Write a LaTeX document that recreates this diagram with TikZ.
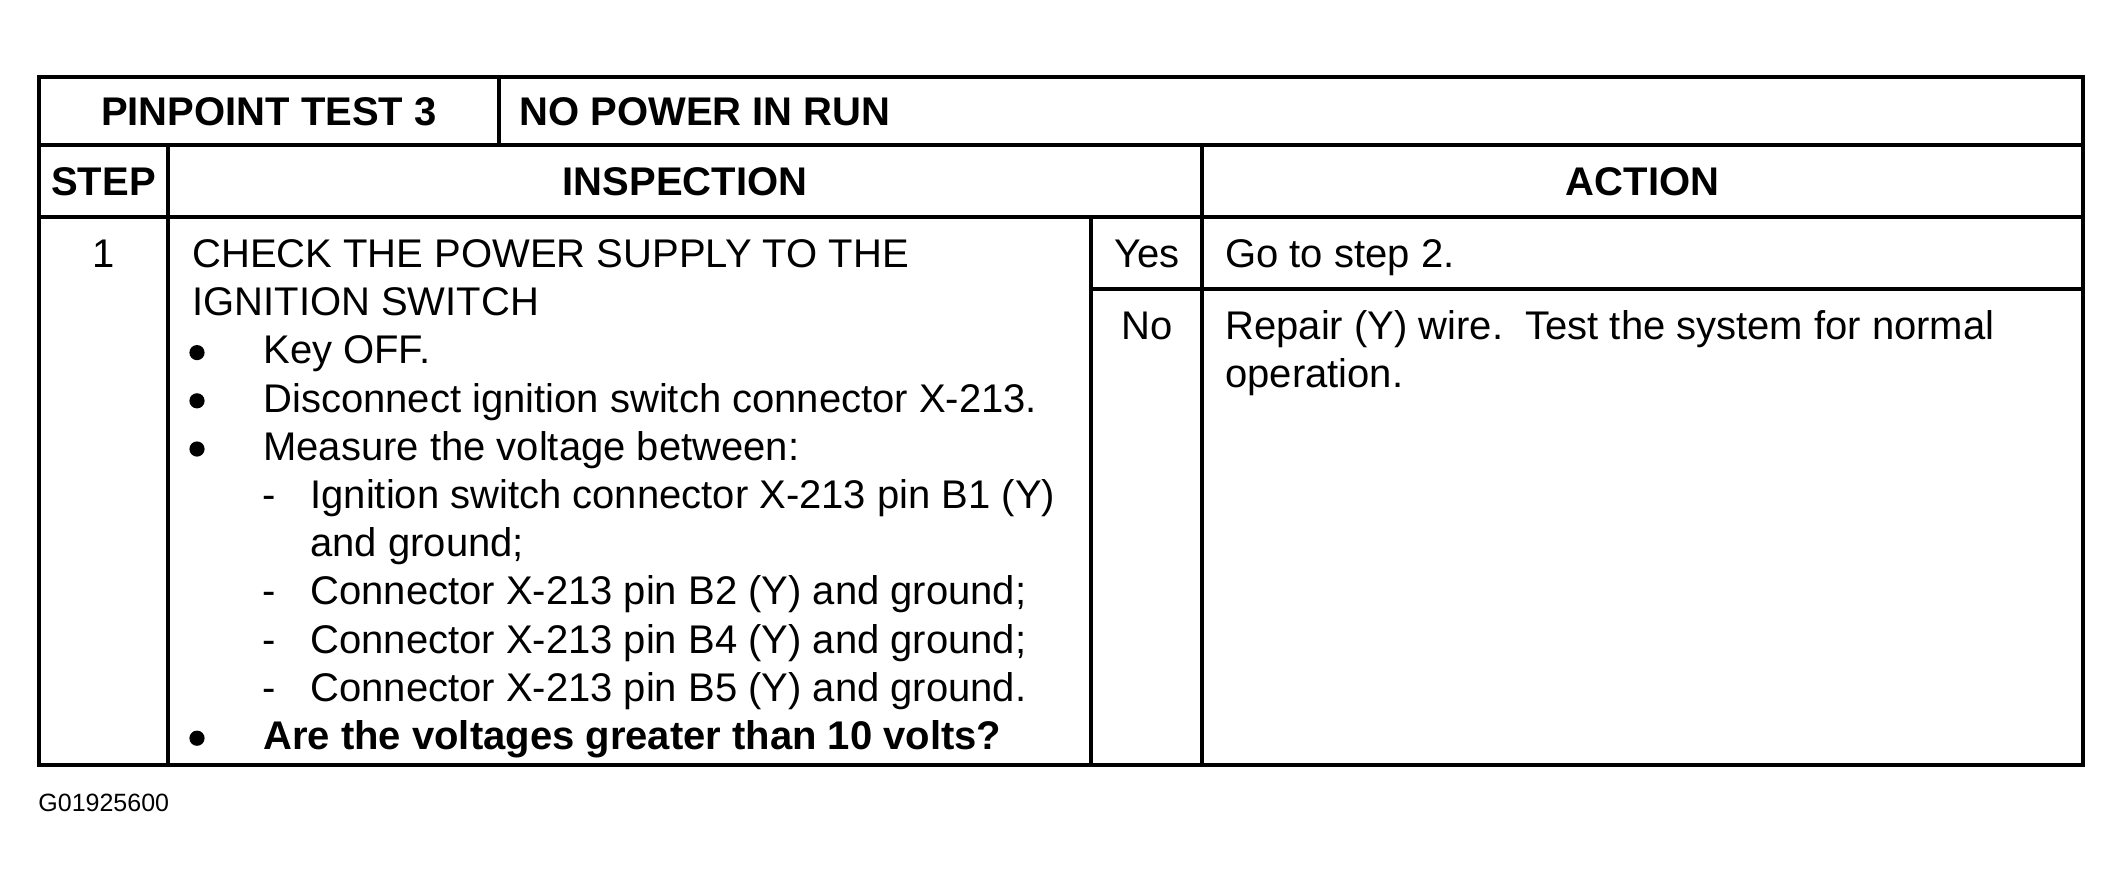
\documentclass[tikz,border=0pt]{standalone}
\usepackage{fontspec}
\setmainfont{Liberation Sans}
\begin{document}
\begin{tikzpicture}[x=0.5pt,y=-0.5pt,
  tbl/.style={line width=2pt},
  txt/.style={inner sep=0pt,anchor=base west,font=\fontsize{20pt}{24pt}\selectfont},
  ctxt/.style={inner sep=0pt,anchor=base,font=\fontsize{20pt}{24pt}\selectfont},
  hdr/.style={inner sep=0pt,anchor=base,font=\fontsize{20pt}{24pt}\selectfont\bfseries},
  hdrl/.style={inner sep=0pt,anchor=base west,font=\fontsize{20pt}{24pt}\selectfont\bfseries},
  bul/.style={inner sep=0pt,anchor=base,font=\fontsize{20pt}{24pt}\selectfont},
  dotb/.style={circle,fill=black,draw=none,inner sep=0pt,minimum size=7.6pt},
  fig/.style={inner sep=0pt,anchor=base west,font=\fontsize{12.5pt}{15pt}\selectfont}]
\useasboundingbox (0,0) rectangle (2124,888);
% table lines
\draw[tbl] (39,77) rectangle (2083,765);
\draw[tbl] (39,145) -- (2083,145);
\draw[tbl] (39,217) -- (2083,217);
\draw[tbl] (1091,289) -- (2083,289);
\draw[tbl] (499,77) -- (499,145);
\draw[tbl] (168,145) -- (168,765);
\draw[tbl] (1091,217) -- (1091,765);
\draw[tbl] (1202,145) -- (1202,765);
% headers
\node[hdr]  (pt)   at (269,125.5) {PINPOINT TEST 3};
\node[hdrl] (npr)  at (519,125.5) {NO POWER IN RUN};
\node[hdr]  (step) at (103.5,195.5) {STEP};
\node[hdr]  (insp) at (685,195.5) {INSPECTION};
\node[hdr]  (act)  at (1642.5,195.5) {ACTION};
% step number
\node[ctxt] (one) at (103.5,267.5) {1};
% inspection text
\node[txt] (l0) at (192,267.5) {CHECK THE POWER SUPPLY TO THE};
\node[txt] (l1) at (192,315.7) {IGNITION SWITCH};
\node[dotb] (b2) at (197,352.6) {};
\node[txt] (l2) at (263,363.9) {Key OFF.};
\node[dotb] (b3) at (197,400.8) {};
\node[txt] (l3) at (263,412.1) {Disconnect ignition switch connector X-213.};
\node[dotb] (b4) at (197,449.0) {};
\node[txt] (l4) at (263,460.3) {Measure the voltage between:};
\node[bul] (d5) at (269,508.5) {-};
\node[txt] (l5) at (310,508.5) {Ignition switch connector X-213 pin B1 (Y)};
\node[txt] (l6) at (310,556.7) {and ground;};
\node[bul] (d7) at (269,604.9) {-};
\node[txt] (l7) at (310,604.9) {Connector X-213 pin B2 (Y) and ground;};
\node[bul] (d8) at (269,653.1) {-};
\node[txt] (l8) at (310,653.1) {Connector X-213 pin B4 (Y) and ground;};
\node[bul] (d9) at (269,701.3) {-};
\node[txt] (l9) at (310,701.3) {Connector X-213 pin B5 (Y) and ground.};
\node[dotb] (b10) at (197,738.2) {};
\node[txt,font=\fontsize{20pt}{24pt}\selectfont\bfseries] (l10) at (263,749.5) {Are the voltages greater than 10 volts?};
% yes / no
\node[ctxt] (yes) at (1147,267.5) {Yes};
\node[txt]  (ya)  at (1225,267.5) {Go to step 2.};
\node[ctxt] (no)  at (1147,339.5) {No};
\node[txt]  (na1) at (1225,339.5) {Repair (Y) wire.\ \ Test the system for normal};
\node[txt]  (na2) at (1225,387.7) {operation.};
% figure id
\node[fig] (gid) at (38,811) {G01925600};
\end{tikzpicture}
\end{document}
